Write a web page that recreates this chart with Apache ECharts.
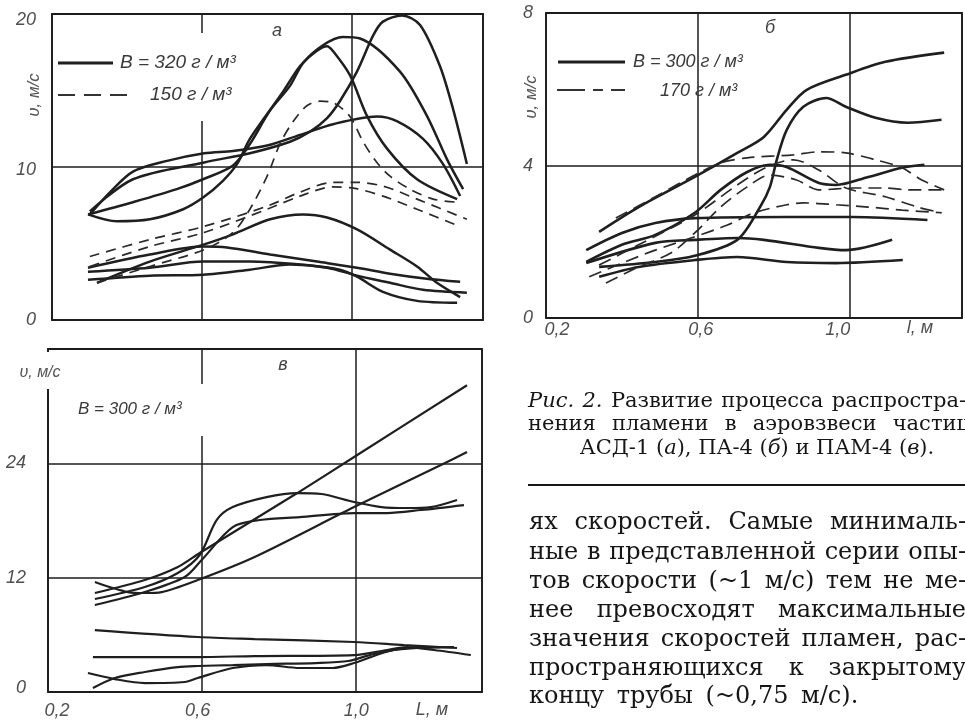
<!DOCTYPE html>
<html><head><meta charset="utf-8">
<script src="https://cdn.jsdelivr.net/npm/echarts@6/dist/echarts.min.js"></script>
<style>html,body{margin:0;padding:0;background:#fff}#c{width:965px;height:720px}</style>
</head><body><div id="c"></div>
<script>
// ---------- Panel а (АСД-1): B = 320 г/м3 (solid), 150 г/м3 (dashed) ----------
const a_xTicks = [0.2, 0.6, 1.0];
const a_yTicks = [0, 10, 20];
const a_yLabels = ['0', '10', '20'];
const a_solid1 = [[0.301,6.9],[0.355,8.36],[0.416,9.7],[0.507,10.4],[0.606,10.9],[0.683,11.05],[0.774,11.4],[0.862,12.1],[0.950,12.8],[1.067,13.3],[1.120,13.0],[1.190,11.84],[1.243,10.2],[1.289,8.1]];
const a_solid2 = [[0.301,7.1],[0.416,9.2],[0.606,10.3],[0.728,10.9],[0.835,11.65],[0.888,12.3],[0.934,13.2],[0.968,14.3],[1.014,16.25],[1.057,18.6],[1.083,19.5],[1.134,19.9],[1.182,19.28],[1.235,16.6],[1.270,13.8],[1.307,10.2]];
const a_solid3 = [[0.296,6.9],[0.416,7.7],[0.533,8.55],[0.603,9.2],[0.683,10.1],[0.728,11.5],[0.782,13.7],[0.835,15.3],[0.870,16.8],[0.923,17.96],[0.976,18.5],[1.022,18.4],[1.128,16.25],[1.200,13.36],[1.254,10.5],[1.297,8.55]];
const a_solid4 = [[0.296,6.9],[0.373,6.45],[0.461,6.58],[0.550,7.24],[0.603,8.0],[0.656,9.1],[0.694,10.2],[0.728,11.84],[0.816,14.9],[0.862,16.6],[0.907,17.6],[0.934,17.9],[0.950,17.57],[0.995,16.0],[1.040,13.36],[1.094,11.2],[1.174,9.2],[1.281,7.9]];
const a_solid5 = [[0.320,2.43],[0.461,3.82],[0.606,4.94],[0.683,5.6],[0.782,6.58],[0.870,6.9],[0.934,6.7],[1.014,5.92],[1.102,4.6],[1.174,3.5],[1.227,2.43],[1.289,1.5]];
const a_solid6 = [[0.296,3.42],[0.461,4.28],[0.603,4.8],[0.667,4.74],[0.782,4.28],[0.907,3.82],[1.014,3.42],[1.102,3.03],[1.200,2.7],[1.289,2.5]];
const a_solid7 = [[0.296,3.16],[0.461,3.42],[0.603,3.82],[0.728,3.82],[0.862,3.62],[0.968,3.29],[1.014,2.83],[1.083,1.84],[1.174,1.25],[1.281,1.12]];
const a_solid8 = [[0.296,2.63],[0.461,2.9],[0.603,2.96],[0.728,3.29],[0.835,3.62],[0.934,3.42],[1.014,2.9],[1.102,2.43],[1.190,1.97],[1.307,1.78]];
const a_dash1 = [[0.301,4.15],[0.461,5.26],[0.606,6.12],[0.774,7.44],[0.862,8.36],[0.950,9.0],[1.008,9.0],[1.083,8.75],[1.174,7.9],[1.307,6.58]];
const a_dash2 = [[0.301,3.5],[0.461,4.8],[0.606,5.72],[0.774,7.24],[0.862,8.1],[0.950,8.7],[1.008,8.6],[1.083,8.1],[1.174,7.24],[1.289,6.1]];
const a_dash3 = [[0.320,2.43],[0.461,3.5],[0.606,4.6],[0.683,5.72],[0.728,7.24],[0.774,9.4],[0.808,11.5],[0.843,12.96],[0.880,14.0],[0.915,14.3],[0.950,14.2],[0.995,13.3],[1.030,11.65],[1.067,10.3],[1.102,9.4],[1.155,8.55],[1.217,7.9],[1.281,7.7]];

// ---------- Panel б (ПА-4): B = 300 г/м3 (solid), 170 г/м3 (dashed) ----------
const b_xTicks = [0.2, 0.6, 1.0];
const b_xLabels = ['0,2', '0,6', '1,0'];
const b_yTicks = [0, 4, 8];
const b_yLabels = ['0', '4', '8'];
const b_solid1 = [[0.340,2.26],[0.444,2.91],[0.592,3.7],[0.704,4.33],[0.774,4.75],[0.834,5.46],[0.886,5.98],[0.990,6.38],[1.094,6.72],[1.249,6.96]];
const b_solid2 = [[0.340,1.34],[0.488,1.47],[0.592,1.63],[0.704,2.05],[0.764,2.91],[0.790,3.44],[0.808,4.15],[0.834,4.93],[0.878,5.54],[0.938,5.77],[0.990,5.54],[1.068,5.25],[1.153,5.12],[1.242,5.2]];
const b_solid3 = [[0.306,1.78],[0.4,2.23],[0.488,2.49],[0.592,2.62],[0.834,2.65],[1.008,2.65],[1.205,2.57]];
const b_solid4 = [[0.306,1.44],[0.488,1.97],[0.592,2.05],[0.704,2.1],[0.774,2.05],[0.919,1.84],[0.990,1.78],[1.112,2.05]];
const b_solid5 = [[0.340,1.08],[0.444,1.34],[0.592,1.52],[0.704,1.6],[0.834,1.47],[0.964,1.44],[1.140,1.52]];
const b_solid6 = [[0.306,1.47],[0.4,1.92],[0.488,2.18],[0.592,2.76],[0.66,3.36],[0.730,3.83],[0.790,4.02],[0.834,3.96],[0.919,3.54],[0.964,3.49],[1.049,3.70],[1.138,3.94],[1.197,4.02]];
const b_dash1 = [[0.384,2.62],[0.488,3.18],[0.592,3.75],[0.66,4.07],[0.730,4.2],[0.852,4.28],[0.919,4.36],[0.990,4.33],[1.068,4.15],[1.138,3.94],[1.19,3.62],[1.249,3.36]];
const b_dash2 = [[0.358,0.92],[0.444,1.34],[0.530,1.71],[0.592,2.23],[0.66,2.91],[0.730,3.44],[0.790,3.75],[0.860,3.62],[0.919,3.36],[1.008,3.41],[1.094,3.41],[1.153,3.36],[1.249,3.36]];
const b_dash3 = [[0.314,1.08],[0.4,1.44],[0.488,1.78],[0.592,2.13],[0.678,2.44],[0.748,2.76],[0.834,2.97],[0.878,3.02],[0.964,2.97],[1.049,2.91],[1.138,2.83],[1.242,2.76]];
const b_dash4 = [[0.340,1.39],[0.444,1.92],[0.592,2.7],[0.704,3.49],[0.782,3.96],[0.852,4.15],[0.919,3.88],[0.990,3.41],[1.094,3.18],[1.179,2.91],[1.242,2.76]];

// ---------- Panel в (ПАМ-4): B = 300 г/м3 ----------
const c_xTicks = [0.2, 0.6, 1.0];
const c_xLabels = ['0,2', '0,6', '1,0'];
const c_yTicks = [0, 12, 24];
const c_yLabels = ['0', '12', '24'];
const c_line1 = [[0.322,10.39],[0.452,11.75],[0.538,13.12],[0.595,14.59],[0.849,20.88],[0.997,24.66],[1.291,32.2]];
const c_line2 = [[0.322,11.54],[0.408,10.49],[0.452,10.39],[0.496,10.49],[0.590,11.75],[0.738,14.17],[0.997,19.41],[1.223,23.82],[1.291,25.18]];
const c_curve1 = [[0.322,9.76],[0.452,11.02],[0.538,12.49],[0.595,14.38],[0.639,18.05],[0.681,19.41],[0.769,20.46],[0.849,20.88],[0.912,20.78],[0.997,19.94],[1.068,19.41],[1.135,19.31],[1.197,19.41],[1.265,20.15]];
const c_curve2 = [[0.322,9.13],[0.452,10.49],[0.556,12.07],[0.6,13.85],[0.681,17.31],[0.751,18.05],[0.855,18.36],[0.997,18.78],[1.083,18.78],[1.171,19.1],[1.283,19.62]];
const c_low1 = [[0.322,6.5],[0.590,5.77],[0.738,5.56],[0.997,5.25],[1.127,4.93],[1.265,4.62]];
const c_low2 = [[0.317,3.67],[0.590,3.67],[0.738,3.77],[0.997,3.88],[1.083,4.41],[1.135,4.72],[1.205,4.41],[1.301,3.88]];
const c_low3 = [[0.304,1.99],[0.374,1.36],[0.452,0.94],[0.556,1.05],[0.590,1.47],[0.681,2.52],[0.769,2.83],[0.855,2.52],[0.941,2.52],[0.997,3.04],[1.101,4.41],[1.257,4.72]];
const c_low4 = [[0.317,0.42],[0.374,1.47],[0.452,2.1],[0.538,2.62],[0.590,2.73],[0.681,2.83],[0.769,2.94],[0.896,3.04],[0.982,3.25],[1.040,3.9],[1.135,4.62],[1.22,4.72]];

// ---------- Text ----------
const captionLines = ['Рис. 2. Развитие процесса распростра-', 'нения пламени в аэровзвеси частиц'];
const captionLast = ['АСД-1 (', 'а', '), ПА-4 (', 'б', ') и ПАМ-4 (', 'в', ').'];
const bodyLines = [
  'ях скоростей. Самые минималь-',
  'ные в представленной серии опы-',
  'тов скорости (~1 м/с) тем не ме-',
  'нее превосходят максимальные',
  'значения скоростей пламен, рас-',
  'пространяющихся к закрытому',
  'концу трубы (~0,75 м/с).'
];

const PF = '"Liberation Sans", "DejaVu Sans", sans-serif';
const SF = '"DejaVu Serif", "Liberation Serif", serif';
const INK = '#1f1f1f';
const TXT = '#3c3c3c';

function richLab(ticks, labels) {
  return function (v) {
    for (let i = 0; i < ticks.length; i++) if (Math.abs(v - ticks[i]) < 1e-6) return '{p' + i + '|' + labels[i] + '}';
    return '';
  };
}
const lblBase = { fontSize: 18, fontStyle: 'italic', color: '#505050', fontFamily: PF };
function richShift(pads) {
  const r = {};
  pads.forEach((p, i) => { r['p' + i] = Object.assign({ padding: p }, lblBase); });
  return r;
}

const series = [];
function addLine(arr, ax, name, dashed, dashPat, w) {
  series.push({
    type: 'line', name: name, xAxisIndex: ax, yAxisIndex: ax, data: arr,
    showSymbol: false, smooth: 0.3, clip: true,
    lineStyle: { color: dashed ? '#2a2a2a' : INK, width: w || (dashed ? 1.7 : 2.5), type: dashed ? dashPat : 'solid' },
    emphasis: { disabled: true }, silent: true
  });
}
[a_solid1, a_solid2, a_solid3, a_solid4, a_solid5, a_solid6, a_solid7, a_solid8].forEach(s => addLine(s, 0, 'B = 320 г/м³', false));
[a_dash1, a_dash2, a_dash3].forEach(s => addLine(s, 0, '150 г/м³', true, [10, 7]));
[b_solid1, b_solid2, b_solid3, b_solid4, b_solid5, b_solid6].forEach(s => addLine(s, 1, 'B = 300 г/м³', false, null, 2.6));
[b_dash1, b_dash2, b_dash3, b_dash4].forEach(s => addLine(s, 1, '170 г/м³', true, [13, 7]));
[c_line1, c_line2, c_curve1, c_curve2, c_low1, c_low2, c_low3, c_low4].forEach(s => addLine(s, 2, 'ПАМ-4', false, null, 2.2));

const gridBorder = { show: true, borderColor: '#1c1c1c', borderWidth: 1.8, backgroundColor: 'transparent' };
const split = { show: true, lineStyle: { color: '#1c1c1c', width: 1.5 } };

// ---------- Text layout helpers ----------
const ctx = document.createElement('canvas').getContext('2d');
function measure(t, font) { ctx.font = font; return ctx.measureText(t).width; }

const graphics = [];
function txt(x, y, text, font, opts) {
  graphics.push(Object.assign({
    type: 'text', x: x, y: y, z: 20, silent: true,
    style: Object.assign({ text: text, font: font, fill: TXT, align: 'left', verticalAlign: 'middle' }, (opts && opts.style) || {})
  }, opts ? { rotation: opts.rotation || 0 } : {}));
}
function justify(words, x0, x1, y, fontOf, fill) {
  const widths = words.map(w => measure(w.t, fontOf(w)));
  const total = widths.reduce((a, b) => a + b, 0);
  const gap = words.length > 1 ? (x1 - x0 - total) / (words.length - 1) : 0;
  let x = x0;
  words.forEach((w, i) => {
    graphics.push({ type: 'text', x: x, y: y, z: 20, silent: true,
      style: { text: w.t, font: fontOf(w), fill: fill, align: 'left', verticalAlign: 'middle' } });
    x += widths[i] + gap;
  });
}

// body text
const bodyBase = 20;
const bodyW = measure(bodyLines[6], bodyBase + 'px ' + SF);
const bodySize = Math.max(14, Math.min(24, bodyBase * 326 / bodyW));
const bodyFont = bodySize.toFixed(1) + 'px ' + SF;
const bodyY = [523, 553, 582, 611, 640, 669, 697];
bodyLines.forEach((ln, i) => {
  const ws = ln.split(' ').map(t => ({ t: t }));
  if (i < bodyLines.length - 1) justify(ws, 529, 966, bodyY[i], () => bodyFont, '#161616');
  else justify(ws, 529, 529 + measure(ln, bodyFont) + 3 * 5, bodyY[i], () => bodyFont, '#161616');
});

// caption
const capBase = 17;
const capW = measure(captionLast.join(''), capBase + 'px ' + SF);
const capSize = Math.max(13, Math.min(21, capBase * 410 / capW));
const capFont = capSize.toFixed(1) + 'px ' + SF;
const capFontI = 'italic ' + capFont;
justify(captionLines[0].split(' ').map((t, i) => ({ t: t, i: i < 2 })), 528, 966, 402, w => (w.i ? capFontI : capFont), '#161616');
justify(captionLines[1].split(' ').map(t => ({ t: t })), 528, 970, 425, () => capFont, '#161616');
let capStr = '';
captionLast.forEach((p, i) => { capStr += '{' + (i % 2 ? 'i' : 'n') + '|' + p + '}'; });
graphics.push({ type: 'text', x: 757, y: 449, z: 20, silent: true,
  style: { text: capStr, align: 'center', verticalAlign: 'middle', fill: '#161616',
    rich: { n: { font: capFont, fill: '#161616' }, i: { font: capFontI, fill: '#161616' } } } });
graphics.push({ type: 'line', z: 20, silent: true, shape: { x1: 528, y1: 485, x2: 965, y2: 485 }, style: { stroke: '#161616', lineWidth: 2 } });

// plot texts
const pFont = s => 'italic ' + s + 'px ' + PF;
txt(34, 95, 'υ, м/с', pFont(17), { rotation: Math.PI / 2, style: { align: 'center', fill: '#555' } });
txt(531, 97, 'υ, м/с', pFont(17), { rotation: Math.PI / 2, style: { align: 'center', fill: '#555' } });
txt(40, 373, 'υ, м/с', pFont(16), { style: { align: 'center', fill: '#555' } });
txt(277, 31, 'а', pFont(18), { style: { align: 'center', fill: '#444' } });
txt(770, 28, 'б', pFont(18), { style: { align: 'center', fill: '#444' } });
txt(283, 365, 'в', pFont(18), { style: { align: 'center', fill: '#444' } });
txt(920, 328, 'l, м', pFont(18), { style: { align: 'center', fill: '#505050' } });
txt(432, 710, 'L, м', pFont(18), { style: { align: 'center', fill: '#505050' } });
graphics.push({ type: 'line', z: 20, silent: true, shape: { x1: 58, y1: 63, x2: 113, y2: 63 }, style: { stroke: INK, lineWidth: 2.8 } });
txt(120, 63, 'B = 320 г / м³', pFont(19), { style: { fill: '#3a3a3a' } });
graphics.push({ type: 'line', z: 20, silent: true, shape: { x1: 58, y1: 95, x2: 128, y2: 95 }, style: { stroke: '#333', lineWidth: 2, lineDash: [17, 9] } });
txt(150, 95, '150 г / м³', pFont(19), { style: { fill: '#3a3a3a' } });
graphics.push({ type: 'line', z: 20, silent: true, shape: { x1: 558, y1: 62, x2: 625, y2: 62 }, style: { stroke: INK, lineWidth: 3 } });
txt(633, 62, 'B = 300 г / м³', pFont(18), { style: { fill: '#3a3a3a' } });
graphics.push({ type: 'line', z: 20, silent: true, shape: { x1: 557, y1: 90, x2: 625, y2: 90 }, style: { stroke: '#333', lineWidth: 2, lineDash: [28, 8, 10, 8] } });
txt(660, 91, '170 г / м³', pFont(18), { style: { fill: '#3a3a3a' } });
txt(78, 409, 'B = 300 г / м³', pFont(17), { style: { fill: '#3a3a3a' } });
graphics.push({ type: 'rect', z: 1, silent: true, shape: { x: 198, y: 33, width: 9, height: 88 }, style: { fill: '#fff' } });
graphics.push({ type: 'rect', z: 1, silent: true, shape: { x: 44, y: 352, width: 8, height: 37 }, style: { fill: '#fff' } });
graphics.push({ type: 'rect', z: 1, silent: true, shape: { x: 197, y: 384, width: 9, height: 52 }, style: { fill: '#fff' } });

const option = {
  backgroundColor: '#fff',
  animation: false,
  grid: [
    Object.assign({ left: 52, top: 14, width: 431, height: 306 }, gridBorder),
    Object.assign({ left: 546, top: 13, width: 422, height: 305 }, gridBorder),
    Object.assign({ left: 48, top: 349, width: 434, height: 343 }, gridBorder)
  ],
  xAxis: [
    { type: 'value', gridIndex: 0, min: 0.2, max: 1.35, interval: 0.4, axisLine: { show: false }, axisTick: { show: false }, axisLabel: { show: false }, splitLine: split },
    { type: 'value', gridIndex: 1, min: 0.2, max: 1.296, interval: 0.4, axisLine: { show: false }, axisTick: { show: false }, splitLine: split,
      axisLabel: Object.assign({ margin: 3, formatter: richLab(b_xTicks, b_xLabels), rich: richShift([[0, 0, 0, 22], [0, 0, 0, 6], [0, 24, 0, 0]]) }, lblBase) },
    { type: 'value', gridIndex: 2, min: 0.2, max: 1.33, interval: 0.4, axisLine: { show: false }, axisTick: { show: false }, splitLine: split,
      axisLabel: Object.assign({ margin: 10, formatter: richLab(c_xTicks, c_xLabels), rich: richShift([[0, 0, 0, 18], [0, 8, 0, 0], [0, 0, 0, 2]]) }, lblBase) }
  ],
  yAxis: [
    { type: 'value', gridIndex: 0, min: 0, max: 20, interval: 10, axisLine: { show: false }, axisTick: { show: false }, splitLine: split,
      axisLabel: Object.assign({ margin: 16, formatter: richLab(a_yTicks, a_yLabels), rich: richShift([[0, 0, 0, 0], [6, 0, 0, 0], [12, 0, 0, 0]]) }, lblBase) },
    { type: 'value', gridIndex: 1, min: 0, max: 8, interval: 4, axisLine: { show: false }, axisTick: { show: false }, splitLine: split,
      axisLabel: Object.assign({ margin: 13, formatter: richLab(b_yTicks, b_yLabels), rich: richShift([[0, 0, 0, 0], [0, 0, 0, 0], [0, 0, 0, 0]]) }, lblBase) },
    { type: 'value', gridIndex: 2, min: 0, max: 36, interval: 12, axisLine: { show: false }, axisTick: { show: false }, splitLine: split,
      axisLabel: Object.assign({ margin: 22, formatter: richLab(c_yTicks, c_yLabels), rich: richShift([[0, 0, 8, 0], [0, 0, 0, 0], [0, 0, 0, 0]]) }, lblBase) }
  ],
  graphic: graphics,
  series: series
};
const chart = echarts.init(document.getElementById('c'), null, { renderer: 'canvas', width: 965, height: 720 });
chart.setOption(option);
</script></body></html>
